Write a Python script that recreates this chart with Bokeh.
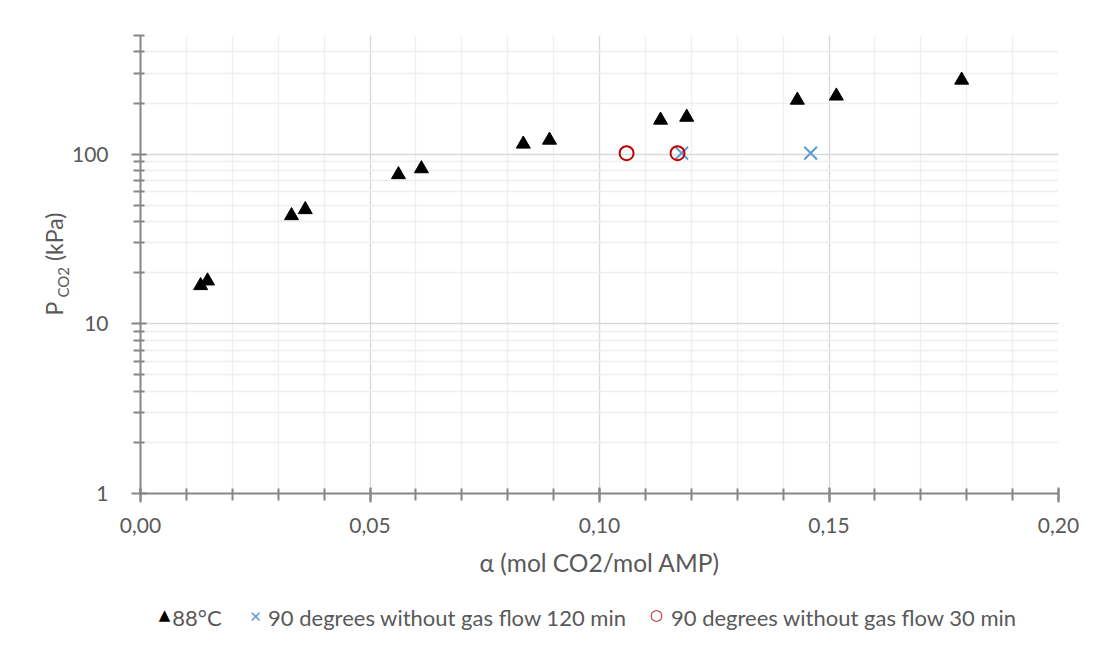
from bokeh.plotting import figure
from bokeh.models import (FixedTicker, Range1d, Title, LinearAxis)
from bokeh.embed import file_html
from bokeh.resources import INLINE

# ---- data ----
alpha_88 = [0.0131, 0.0146, 0.0329, 0.0359, 0.0562, 0.0612, 0.0834, 0.0891,
            0.1133, 0.1190, 0.1431, 0.1516, 0.1789]
p_88 = [16.8, 17.9, 43.4, 47.1, 75.7, 82.0, 114.6, 120.9,
        158.6, 165.0, 208.0, 220.0, 273.0]
alpha_120 = [0.1179, 0.1460]
p_120 = [101.3, 101.3]
alpha_30 = [0.1059, 0.1170]
p_30 = [101.3, 101.3]

x_ticks = [0.0, 0.05, 0.10, 0.15, 0.20]
x_tick_labels = ["0,00", "0,05", "0,10", "0,15", "0,20"]
x_minor = [round(i * 0.01, 2) for i in range(21)]
y_ticks = [1, 10, 100]
y_tick_labels = ["1", "10", "100"]
y_minor = [2, 3, 4, 5, 6, 7, 8, 9, 20, 30, 40, 50, 60, 70, 80, 90, 200, 300, 400, 500]

names = ["88°C", "90 degrees without gas flow 120 min", "90 degrees without gas flow 30 min"]
symbols = ["▲", "✕", "○"]
colors = ["black", "#5b9bd5", "#c00000"]
y_title_main = "P\u00a0\u00a0\u00a0\u00a0\u00a0\u00a0\u00a0(kPa)"
y_title_sub = "CO2"

FONT = "Lato"
TXT = "#595959"
AX = "#868686"

# legend key layout (pixel positions along the bottom, converted to x units)
def px2x(px):
    return round((px - 140) / 918 * 0.2, 5)
legend_text_pos = [px2x(196.5), px2x(447), px2x(843.5)]
legend_sym_pos = [px2x(164), px2x(255), px2x(656)]

p = figure(frame_width=918, frame_height=458, output_backend="svg",
           toolbar_location=None, y_axis_type="log",
           x_range=Range1d(0, 0.2), y_range=Range1d(1, 500),
           min_border_left=140, min_border_right=23,
           min_border_top=35, min_border_bottom=0)
p.outline_line_color = None
p.background_fill_color = "white"
p.border_fill_color = "white"

p.xaxis.ticker = FixedTicker(ticks=x_ticks, minor_ticks=x_minor)
p.xaxis.major_label_overrides = {t: l for t, l in zip(x_ticks, x_tick_labels)}
p.yaxis.ticker = FixedTicker(ticks=y_ticks, minor_ticks=y_minor)
p.yaxis.major_label_overrides = {t: l for t, l in zip(y_ticks, y_tick_labels)}

for ax in (p.xaxis[0], p.yaxis[0]):
    ax.axis_line_color = AX
    ax.axis_line_width = 2
    ax.major_tick_line_color = AX
    ax.major_tick_line_width = 2
    ax.minor_tick_line_color = AX
    ax.minor_tick_line_width = 2
    ax.major_label_text_font = FONT
    ax.major_label_text_font_size = "21px"
    ax.major_label_text_color = TXT
    ax.axis_label_text_font = FONT
    ax.axis_label_text_color = TXT
    ax.axis_label_text_font_style = "normal"

p.xaxis.major_tick_in = 6
p.xaxis.major_tick_out = 9
p.xaxis.minor_tick_in = 5
p.xaxis.minor_tick_out = 7
p.yaxis.major_tick_in = 6
p.yaxis.major_tick_out = 9
p.yaxis.minor_tick_in = 4
p.yaxis.minor_tick_out = 7
p.xaxis.major_label_standoff = 15
p.yaxis.major_label_standoff = 23

p.xaxis.axis_label = "α (mol CO2/mol AMP)"
p.xaxis.axis_label_text_font_size = "24.5px"
p.xaxis.axis_label_standoff = 12

p.xgrid.grid_line_color = "#d9d9d9"
p.ygrid.grid_line_color = "#d9d9d9"
p.xgrid.grid_line_width = 1.3
p.ygrid.grid_line_width = 1.3
p.xgrid.minor_grid_line_color = "#efefef"
p.ygrid.minor_grid_line_color = "#efefef"
p.xgrid.minor_grid_line_width = 1.3
p.ygrid.minor_grid_line_width = 1.3
p.xgrid.level = "underlay"
p.ygrid.level = "underlay"

# y-axis title as two side titles (subscript closer to the axis)
t_sub = Title(text=y_title_sub, align="left", offset=196, vertical_align="bottom",
              standoff=-6, text_font=FONT, text_font_size="15px",
              text_color=TXT, text_font_style="normal")
t_main = Title(text=y_title_main, align="left", offset=178, vertical_align="bottom",
               standoff=-26, text_font=FONT, text_font_size="23px",
               text_color=TXT, text_font_style="normal")
p.add_layout(t_sub, "left")
p.add_layout(t_main, "left")

# series
p.scatter(alpha_88, p_88, marker="triangle", size=14, fill_color="black",
          line_color="black")
p.scatter(alpha_120, p_120, marker="x", size=18, line_color="#5b9bd5",
          line_width=2)
p.scatter(alpha_30, p_30, marker="circle", size=14, fill_color=None,
          line_color="#c00000", line_width=2)

# legend row below the x-axis title, built from label-only axes
def key_axis(pos, labels, font, size, color, standoff):
    a = LinearAxis(ticker=FixedTicker(ticks=pos, minor_ticks=[]),
                   major_label_overrides={t: l for t, l in zip(pos, labels)})
    a.axis_line_color = None
    a.major_tick_line_color = None
    a.minor_tick_line_color = None
    a.major_tick_in = 0
    a.major_tick_out = 0
    a.minor_tick_in = 0
    a.minor_tick_out = 0
    a.major_label_text_font = font
    a.major_label_text_font_size = size
    a.major_label_text_color = color
    a.major_label_standoff = standoff
    p.add_layout(a, "below")

key_axis([legend_sym_pos[0]], [symbols[0]], "DejaVu Sans", "15px", colors[0], 26)
key_axis([legend_sym_pos[1]], [symbols[1]], "DejaVu Sans", "15px", colors[1], -19)
key_axis([legend_sym_pos[2]], [symbols[2]], "DejaVu Sans", "15px", colors[2], -23)
key_axis(legend_text_pos, names, FONT, "22px", TXT, -25)

open("out.html", "w").write(file_html(p, INLINE))
